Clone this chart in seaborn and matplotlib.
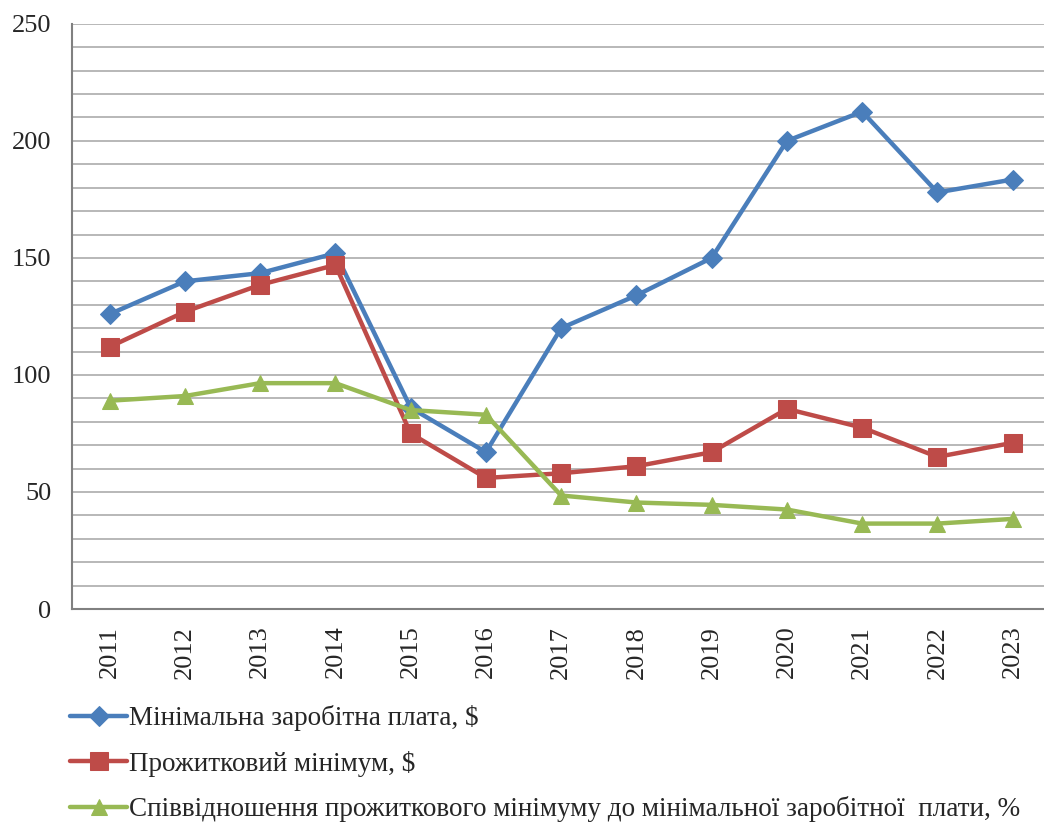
import numpy as np
import pandas as pd
import matplotlib
matplotlib.use("Agg")
import matplotlib.pyplot as plt
import seaborn as sns
from matplotlib.ticker import MultipleLocator, FixedLocator

years = ["2011", "2012", "2013", "2014", "2015", "2016", "2017",
         "2018", "2019", "2020", "2021", "2022", "2023"]
min_wage = [126, 140, 143.5, 152, 86, 67, 120, 134, 150, 200, 212.5, 178, 183.5]
subsistence = [112, 127, 138.5, 147, 75, 56, 58, 61, 67, 85.5, 77.5, 65, 71]
ratio = [89, 91, 96.5, 96.5, 85, 83, 48.5, 45.5, 44.5, 42.5, 36.5, 36.5, 38.5]

labels = ["Мінімальна заробітна плата, $",
          "Прожитковий мінімум, $",
          "Співвідношення прожиткового мінімуму до мінімальної заробітної  плати, %"]
colors = ["#4A7EBB", "#BE4B48", "#98B954"]
markers = ["D", "s", "^"]
msizes = [10, 13, 12]

sns.set_style("white")
plt.rcParams["font.family"] = ["Liberation Serif", "DejaVu Serif"]

pos = np.arange(len(years))
df = pd.DataFrame({
    "pos": np.tile(pos, 3),
    "value": min_wage + subsistence + ratio,
    "series": np.repeat(labels, len(years)),
})

fig = plt.figure(figsize=(10.44, 8.23), dpi=100)
ax = fig.add_axes([0.069, 0.26, 0.937, 0.711])

for lab, col, mk, ms in zip(labels, colors, markers, msizes):
    sub = df[df["series"] == lab]
    sns.lineplot(data=sub, x="pos", y="value", ax=ax, color=col, linewidth=3.2,
                 marker=mk, markersize=ms, markeredgecolor=col, label=lab,
                 legend=False)

ax.set_xlim(-0.5, 12.5)
ax.set_ylim(0, 250)
ax.yaxis.set_major_locator(MultipleLocator(50))
ax.yaxis.set_minor_locator(MultipleLocator(10))
ax.grid(True, which="both", axis="y", color="#ABABAB", linewidth=1.2)
ax.set_axisbelow(True)

ax.set_xticks(pos)
ax.set_xticklabels(years, rotation=90, fontsize=19)
ax.xaxis.set_minor_locator(FixedLocator(np.arange(-0.5, 12.6, 1.0)))
ax.tick_params(axis="x", which="major", length=0, pad=12)
ax.tick_params(axis="x", which="minor", length=6, color="#808080", width=1.2)
ax.tick_params(axis="y", which="major", length=7, color="#808080", width=1.2,
               labelsize=19, pad=8)
ax.tick_params(axis="y", which="minor", length=0)
ax.set_xlabel("")
ax.set_ylabel("")

for side in ["top", "right"]:
    ax.spines[side].set_visible(False)
for side in ["left", "bottom"]:
    ax.spines[side].set_color("#808080")
    ax.spines[side].set_linewidth(1.5)

handles, hlabels = ax.get_legend_handles_labels()
fig.legend(handles, hlabels, loc="upper left", bbox_to_anchor=(0.057, 0.156),
           frameon=False, fontsize=19.5, handlelength=2.1, handletextpad=0.05,
           labelspacing=0.72, borderaxespad=0)

fig.savefig("out.png", dpi=100)
